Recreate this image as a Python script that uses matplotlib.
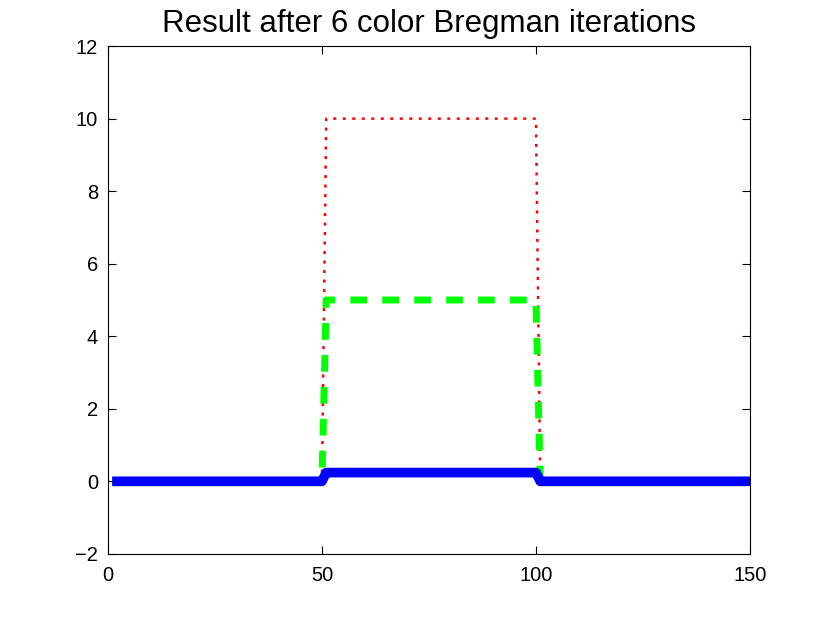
import matplotlib
matplotlib.use("Agg")
import matplotlib.pyplot as plt
import numpy as np

plt.rcParams["font.family"] = ["Liberation Sans", "DejaVu Sans"]

# sample index 1..150, three step profiles
X = np.arange(1, 151)
TRUE_LEVEL = [0.0] * 50 + [10.0] * 50 + [0.0] * 50
GREEN_LEVEL = [0.0] * 50 + [5.0] * 50 + [0.0] * 50
BLUE_LEVEL = [0.0] * 50 + [0.24] * 50 + [0.0] * 50

X_TICKS = [0, 50, 100, 150]
Y_TICKS = [-2, 0, 2, 4, 6, 8, 10, 12]
TITLE = "Result after 6 color Bregman iterations"

fig = plt.figure(figsize=(8.3, 6.23), dpi=100)
ax = fig.add_axes([0.130, 0.111, 0.7736, 0.815])

ax.plot(X, TRUE_LEVEL, color="#ff0000", linewidth=1.8, linestyle=(0, (1.2, 2.6)))
ax.plot(X, GREEN_LEVEL, color="#00ff00", linewidth=5.0, linestyle=(0, (2.4, 2.2)))
ax.plot(X, BLUE_LEVEL, color="#0000ff", linewidth=7.0, linestyle="-",
        solid_capstyle="butt")

ax.set_xlim(0, 150)
ax.set_ylim(-2, 12)
ax.set_xticks(X_TICKS)
ax.set_yticks(Y_TICKS)
ax.set_yticklabels([str(t).replace("-", "\u2212") for t in Y_TICKS])
ax.tick_params(axis="both", direction="in", top=True, right=True,
               labelsize=14.5, length=6, width=0.8)
ax.tick_params(axis="x", pad=9)
ax.tick_params(axis="y", pad=7)
for spine in ax.spines.values():
    spine.set_linewidth(0.8)

ax.set_title(TITLE, fontsize=22.5, pad=10)

fig.savefig("out.png", dpi=100)
